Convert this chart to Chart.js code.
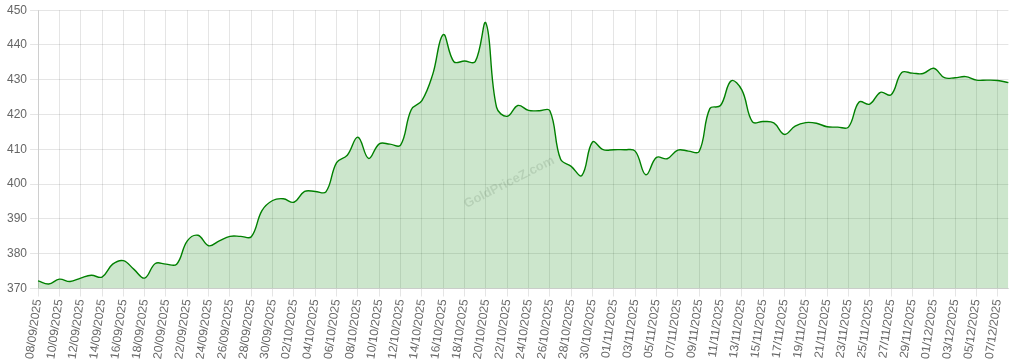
<!DOCTYPE html>
<html>
<head>
<meta charset="utf-8">
<script src="https://cdn.jsdelivr.net/npm/chart.js@4.4.0/dist/chart.umd.min.js"></script>
<style>
  html, body { margin: 0; padding: 0; background: #fff; }
  #wrap { width: 1014px; height: 363px; position: relative; }
</style>
</head>
<body>
<div id="wrap"><canvas id="myChart"></canvas></div>
<script>
let days = [
  "08/09/2025","09/09/2025","10/09/2025","11/09/2025","12/09/2025","13/09/2025","14/09/2025","15/09/2025",
  "16/09/2025","17/09/2025","18/09/2025","19/09/2025","20/09/2025","21/09/2025","22/09/2025","23/09/2025",
  "24/09/2025","25/09/2025","26/09/2025","27/09/2025","28/09/2025","29/09/2025","30/09/2025",
  "01/10/2025","02/10/2025","03/10/2025","04/10/2025","05/10/2025","06/10/2025","07/10/2025","08/10/2025",
  "09/10/2025","10/10/2025","11/10/2025","12/10/2025","13/10/2025","14/10/2025","15/10/2025","16/10/2025",
  "17/10/2025","18/10/2025","19/10/2025","20/10/2025","21/10/2025","22/10/2025","23/10/2025","24/10/2025",
  "25/10/2025","26/10/2025","27/10/2025","28/10/2025","29/10/2025","30/10/2025","31/10/2025",
  "01/11/2025","02/11/2025","03/11/2025","04/11/2025","05/11/2025","06/11/2025","07/11/2025","08/11/2025",
  "09/11/2025","10/11/2025","11/11/2025","12/11/2025","13/11/2025","14/11/2025","15/11/2025","16/11/2025",
  "17/11/2025","18/11/2025","19/11/2025","20/11/2025","21/11/2025","22/11/2025","23/11/2025","24/11/2025",
  "25/11/2025","26/11/2025","27/11/2025","28/11/2025","29/11/2025","30/11/2025",
  "01/12/2025","02/12/2025","03/12/2025","04/12/2025","05/12/2025","06/12/2025","07/12/2025","08/12/2025"
];

let prices = [
  372.2, 371.3, 372.7, 372.0, 373.0, 373.8, 373.3, 377.0, 378.0, 375.5,
  373.0, 377.2, 377.0, 377.0, 383.7, 385.3, 382.3, 383.7, 385.0, 385.0,
  384.9, 392.4, 395.3, 395.8, 394.8, 397.9, 397.9, 397.8, 406.2, 408.3,
  413.5, 407.4, 411.6, 411.5, 411.2, 421.4, 424.0, 431.4, 443.0, 435.2,
  435.4, 435.2, 446.3, 422.1, 419.5, 422.6, 421.2, 421.1, 421.1, 407.2,
  405.1, 402.5, 412.1, 409.9, 409.9, 409.9, 409.5, 402.7, 407.7, 407.3,
  409.8, 409.5, 409.4, 421.7, 422.6, 429.7, 427.1, 417.9, 418.0, 417.6,
  414.3, 416.7, 417.7, 417.5, 416.5, 416.4, 416.4, 423.6, 423.0, 426.4,
  425.7, 432.1, 431.9, 431.8, 433.3, 430.6, 430.6, 430.9, 429.9, 429.9,
  429.8, 429.2
];

let y_min = 370;
let y_max = 450;
let y_step = 10;
let watermark = "GoldPriceZ.com";

const watermarkPlugin = {
    id: 'watermark',
    beforeDatasetsDraw(chart) {
        const ctx = chart.ctx;
        const area = chart.chartArea;
        ctx.save();
        ctx.translate((area.left + area.right) / 2 - 14, (area.top + area.bottom) / 2 + 33);
        ctx.rotate(-27 * Math.PI / 180);
        ctx.font = 'bold 13px "Liberation Sans", Arial, sans-serif';
        ctx.fillStyle = 'rgba(0,0,0,0.11)';
        ctx.textAlign = 'center';
        ctx.textBaseline = 'middle';
        ctx.fillText(watermark, 0, 0);
        ctx.restore();
    }
};

Chart.defaults.font.family = '"Liberation Sans", Arial, sans-serif';
Chart.defaults.font.size = 12;
Chart.defaults.color = '#666';

const myChart = document.getElementById('myChart');
new Chart(myChart, {
    type: 'line',
    data: {
        labels: days,
        datasets: [{
            data: prices,
            borderColor: 'green',
            backgroundColor: 'rgba(0,128,0,0.2)',
            borderWidth: 1.4,
            fill: true,
            tension: 0.4,
            pointRadius: 0,
            pointHoverRadius: 0
        }]
    },
    options: {
        responsive: true,
        maintainAspectRatio: false,
        animation: false,
        layout: { padding: { left: 4, right: 1, top: 2, bottom: 1 } },
        plugins: {
            legend: { display: false },
            tooltip: { enabled: false }
        },
        scales: {
            x: {
                offset: false,
                grid: { color: 'rgba(0,0,0,0.1)' },
                ticks: {
                    autoSkip: false,
                    minRotation: 82,
                    maxRotation: 82,
                    padding: 2,
                    callback: function(val, index) {
                        return index % 2 === 0 ? days[index] : null;
                    }
                }
            },
            y: {
                min: y_min,
                max: y_max,
                grid: { color: 'rgba(0,0,0,0.1)' },
                ticks: { stepSize: y_step, padding: 3 }
            }
        }
    },
    plugins: [watermarkPlugin]
});
</script>
</body>
</html>
